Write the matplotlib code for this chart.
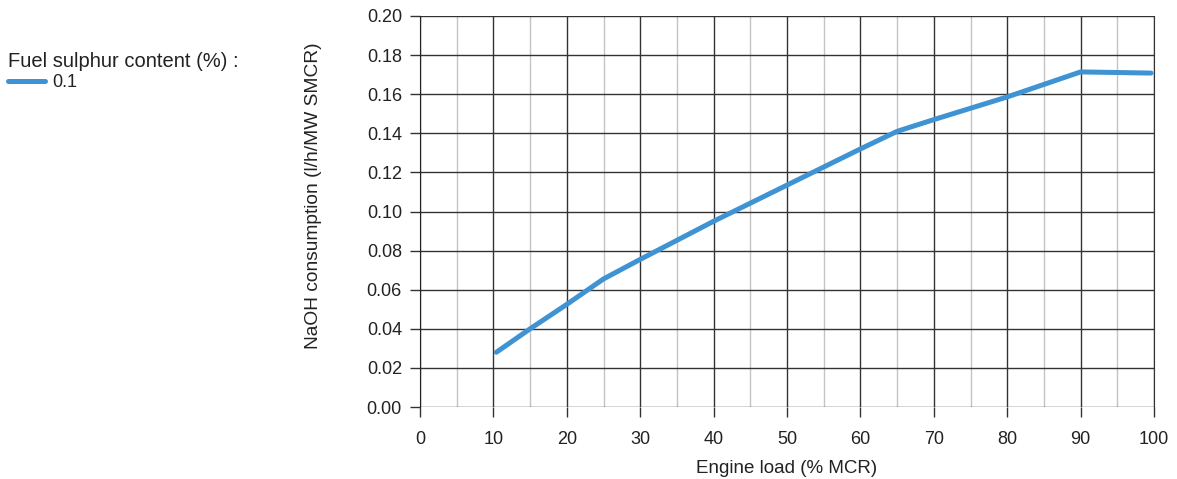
import matplotlib
matplotlib.use("Agg")
import matplotlib.pyplot as plt

plt.rcParams['font.family'] = ['Liberation Sans', 'DejaVu Sans']

load = [10.4, 15, 20, 25, 30, 40, 50, 60, 65, 70, 80, 90, 99.6]
naoh = [0.028, 0.040, 0.0525, 0.0655, 0.0755, 0.0950, 0.1135, 0.1320, 0.1410, 0.1470, 0.1586, 0.1714, 0.1708]
series_label = "0.1"
legend_title = "Fuel sulphur content (%) :"
xticks = list(range(0, 101, 10))
yticks = [i * 0.02 for i in range(11)]

fig = plt.figure(figsize=(11.77, 4.79), dpi=100)
ax = fig.add_axes([420/1177, 1-407/479, (1154-420)/1177, (407-16)/479])

ax.set_xlim(0, 100)
ax.set_ylim(0, 0.20)
ax.set_xticks(xticks)
ax.set_xticks(range(5, 100, 10), minor=True)
ax.set_yticks(yticks)
ax.set_yticklabels([f"{v:.2f}" for v in yticks])

ax.grid(True, which='major', axis='both', color='#333333', linewidth=1.0)
ax.grid(True, which='minor', axis='x', color='#c4c4c4', linewidth=1.0)
ax.set_axisbelow(True)
for s in ['top', 'bottom']:
    ax.spines[s].set_visible(False)
ax.spines['left'].set_color('#222222')
ax.spines['right'].set_color('#333333')
ax.tick_params(axis='both', which='major', length=7, width=1, color='#333333',
               labelsize=13, labelcolor='#222222')
ax.tick_params(axis='x', which='major', pad=10)
ax.tick_params(axis='y', which='major', pad=6)
ax.tick_params(axis='x', which='minor', length=0)

line, = ax.plot(load, naoh, color='#4093d3', linewidth=3.6, solid_capstyle='round',
                solid_joinstyle='round', label=series_label, clip_on=False)

ax.set_xlabel("Engine load (% MCR)", fontsize=13.5, color='#222222', labelpad=9)
ax.set_ylabel("NaOH consumption (l/h/MW SMCR)", fontsize=13.8, color='#222222', labelpad=28)
ax.yaxis.set_label_coords(-0.1335, 0.54)

leg = fig.legend(handles=[line], labels=[series_label], title=legend_title,
                 loc='upper left', bbox_to_anchor=(3/1177, 0.902), frameon=False,
                 fontsize=13, title_fontsize=14.5, handlelength=2.0, handletextpad=0.45,
                 borderaxespad=0.0, borderpad=0.3, labelspacing=0.2)
leg._legend_box.align = "left"
leg._legend_box.sep = 2
for t in [leg.get_title()] + leg.get_texts():
    t.set_color('#222222')

fig.savefig("out.png", dpi=100)
